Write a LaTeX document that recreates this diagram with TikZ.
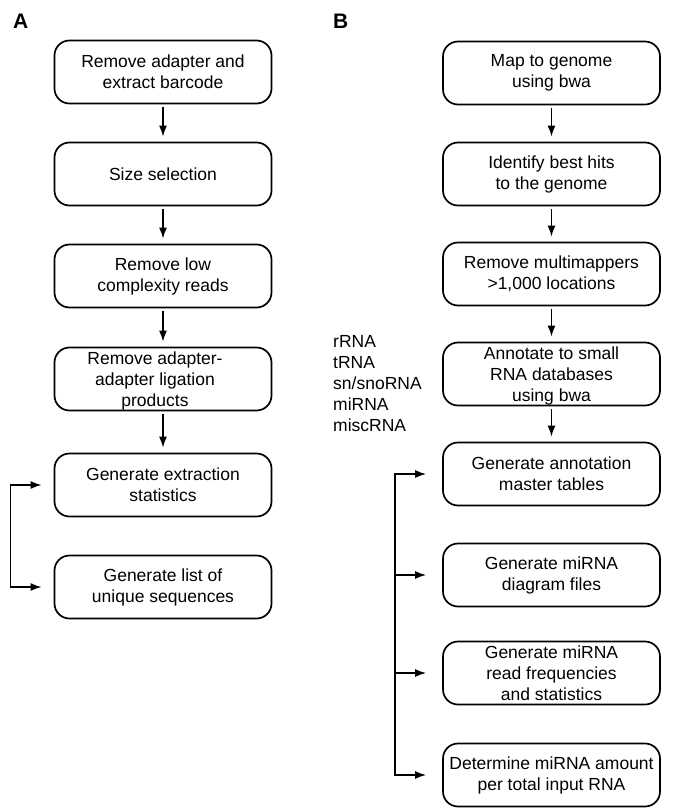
\documentclass[tikz,border=0pt]{standalone}
\usepackage{fontspec}
\setmainfont{Liberation Sans}
\usetikzlibrary{arrows.meta}

\tikzset{
  stepbox/.style={draw, line width=1.7pt, rounded corners=15pt, minimum width=217pt,
    minimum height=63pt, inner sep=0pt, align=center,
    font=\fontsize{17.5}{21}\selectfont},
  tip/.style={Latex[length=11pt,width=8pt]},
  arr/.style={line width=1.6pt, -{Latex[length=11pt,width=8pt]}},
  panel/.style={font=\fontsize{21}{25}\selectfont\bfseries, anchor=north west, inner sep=0pt}
}

\begin{document}
\begin{tikzpicture}[x=1pt,y=-1pt]
    \useasboundingbox (0,0) rectangle (677,810);
    %% Panel labels
    \node[panel] (labA) at (13,14) {A};
    \node[panel] (labB) at (333,14) {B};
    %% Panel A boxes
    \node[stepbox] (a1) at (163,72)  {Remove adapter and\\extract barcode};
    \node[stepbox] (a2) at (163,174) {Size selection};
    \node[stepbox] (a3) at (163,276) {Remove low\\complexity reads};
    \node[stepbox, text depth=-4.5pt] (a4) at (163,379)
      {\hspace*{-16pt}Remove adapter-\\\hspace*{-16pt}adapter ligation\\\hspace*{-16pt}products};
    \node[stepbox] (a5) at (163,485) {Generate extraction\\statistics};
    \node[stepbox] (a6) at (163,587) {Generate list of\\unique sequences};
    %% Panel A arrows
    \foreach \i/\j in {a1/a2,a2/a3,a3/a4,a4/a5}
      \draw[arr, shorten <=3pt, shorten >=5pt] (\i.south) -- (\j.north);
    \draw[arr, {Latex[length=11pt,width=8pt]}-{Latex[length=11pt,width=8pt]},
      shorten <=12pt, shorten >=12pt] (a5.west) -- ++(-43,0) |- (a6.west);
    %% Panel B boxes
    \node[stepbox] (b1) at (551.5,73)  {Map to genome\\using bwa};
    \node[stepbox] (b2) at (551.5,174) {Identify best hits\\to the genome};
    \node[stepbox] (b3) at (551.5,274) {Remove multimappers\\>1,000 locations};
    \node[stepbox, text depth=-2pt] (b4) at (551.5,374) {Annotate to small\\RNA databases\\using bwa};
    \node[stepbox] (b5) at (551.5,474) {Generate annotation\\master tables};
    \node[stepbox] (b6) at (551.5,575) {Generate miRNA\\diagram files};
    \node[stepbox] (b7) at (551.5,673) {Generate miRNA\\read frequencies\\and statistics};
    \node[stepbox] (b8) at (551.5,775) {Determine miRNA amount\\per total input RNA};
    %% Database list
    \node[anchor=west, align=left, inner sep=0pt, font=\fontsize{17.5}{21}\selectfont]
      (dbs) at (333,384) {rRNA\\tRNA\\sn/snoRNA\\miRNA\\miscRNA};
    %% Panel B arrows
    \foreach \i/\j in {b1/b2,b2/b3,b3/b4,b4/b5}
      \draw[arr, shorten <=3pt, shorten >=5pt] (\i.south) -- (\j.north);
    \coordinate (spine) at (395,0);
    \draw[arr, {Latex[length=11pt,width=8pt]}-{Latex[length=11pt,width=8pt]},
      shorten <=16pt, shorten >=16pt] (b5.west) -- (spine |- b5.west) -- (spine |- b8.west) -- (b8.west);
    \foreach \k in {b6,b7}
      \draw[arr, shorten >=16pt] (spine |- \k.west) -- (\k.west);
\end{tikzpicture}
\end{document}
